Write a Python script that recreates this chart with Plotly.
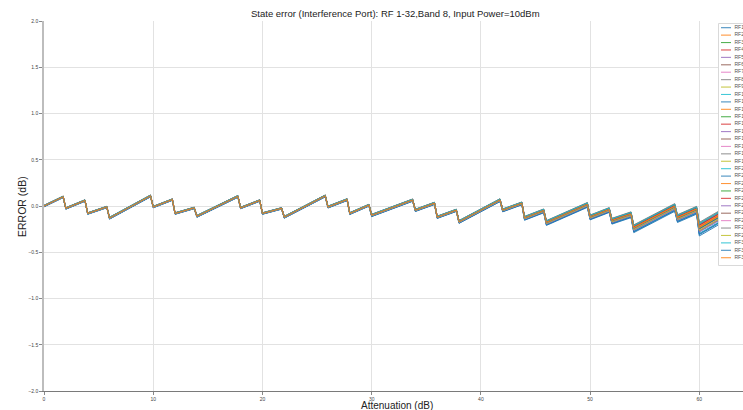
import plotly.graph_objects as go

# ---------------- data ----------------
title_text = "State error (Interference Port): RF 1-32,Band 8, Input Power=10dBm"
rf_names = [f"RF{i}" for i in range(1, 33)]

att_step = 0.25
# attenuation where each sawtooth segment starts (drop positions)
seg_start = [0, 2, 4, 6, 10, 12, 14, 18, 20, 22, 26, 28, 30, 34, 36, 38,
             42, 44, 46, 50, 52, 54, 58, 60, 62]
seg_stop = seg_start[1:] + [64]
# mean error at start / end of each segment (dB)
err_start = [0.0, -0.025, -0.08, -0.13, -0.01, -0.08, -0.11, -0.02, -0.08, -0.12,
             -0.01, -0.08, -0.10, -0.045, -0.12, -0.17, -0.045, -0.13, -0.18, -0.12,
             -0.16, -0.24, -0.13, -0.24, -0.32]
err_end = [0.10, 0.06, -0.01, 0.11, 0.07, -0.02, 0.105, 0.06, -0.025, 0.11,
           0.07, 0.01, 0.065, 0.03, -0.045, 0.065, 0.03, -0.05, 0.015, -0.04,
           -0.09, -0.01, -0.04, -0.12, -0.24]
# channel-to-channel spread in each segment (dB)
seg_spread = [0.008, 0.008, 0.008, 0.01, 0.008, 0.008, 0.01, 0.008, 0.008, 0.01,
              0.01, 0.01, 0.012, 0.012, 0.012, 0.015, 0.015, 0.02, 0.025, 0.025,
              0.03, 0.04, 0.04, 0.07, 0.08]
# relative position of each RF channel inside the spread
rf_offset = [-1.0, 0.3, 0.1, 0.5, -0.2, 0.2, 0.6, 0.0, -0.3, -0.8,
             -1.2, 0.4, -0.1, 0.7, -0.4, 0.15, 0.35, -0.5, 0.05, 0.8,
             -0.9, 0.25, -0.15, 0.45, -0.6, 0.55, -0.25, 0.9, -0.35, 0.65,
             -0.05, 0.1]

x_ticks = [0, 10, 20, 30, 40, 50, 60]
y_ticks = [-2.0, -1.5, -1.0, -0.5, 0.0, 0.5, 1.0, 1.5, 2.0]

# ---------------- build series ----------------
att = []
base = []
seg_of = []
for k, s in enumerate(seg_start):
    n = int(round((seg_stop[k] - s) / att_step))
    for j in range(n):
        att.append(s + j * att_step)
        base.append(err_start[k] + (err_end[k] - err_start[k]) * j / (n - 1))
        seg_of.append(k)

tab10 = ["#1f77b4", "#ff7f0e", "#2ca02c", "#d62728", "#9467bd",
         "#8c564b", "#e377c2", "#7f7f7f", "#bcbd22", "#17becf"]

fig = go.Figure()
for i, name in enumerate(rf_names):
    y = [b + rf_offset[i] * seg_spread[seg_of[p]] for p, b in enumerate(base)]
    fig.add_trace(go.Scatter(x=att, y=y, mode="lines", name=name,
                             line=dict(color=tab10[i % 10], width=0.9),
                             xaxis="x", yaxis="y",
                             showlegend=False, hoverinfo="skip"))

# ---------------- layout ----------------
W, H = 743, 410
L, R, T, B = 44, 0, 21, 19
pw, ph = W - L - R, H - T - B


def pxx(xp):
    return (xp - L) / pw


def pxy(yp):
    return (H - B - yp) / ph


# legend box (pixel frame of the hand-made legend)
leg_left, leg_top, leg_bottom = 718, 23, 266
leg_row0, leg_row_gap = 27.7, 7.42

font_fam = "Liberation Sans, Arial, sans-serif"

# legend drawn in an overlay sub-plot whose axis units are pixels
fig.add_trace(go.Scatter(x=[leg_left + 0.5, W + 20, W + 20, leg_left + 0.5, leg_left + 0.5],
                         y=[leg_top + 0.5, leg_top + 0.5, leg_bottom - 0.5, leg_bottom - 0.5,
                            leg_top + 0.5],
                         mode="lines", fill="toself", fillcolor="rgba(255,255,255,0.82)",
                         line=dict(color="#d9d9d9", width=1),
                         xaxis="x2", yaxis="y2", showlegend=False, hoverinfo="skip"))
for i, name in enumerate(rf_names):
    yy = leg_row0 + i * leg_row_gap
    fig.add_trace(go.Scatter(x=[leg_left + 3, leg_left + 13], y=[yy, yy], mode="lines",
                             line=dict(color=tab10[i % 10], width=1.1), opacity=0.8,
                             xaxis="x2", yaxis="y2", showlegend=False, hoverinfo="skip"))
fig.add_trace(go.Scatter(x=[leg_left + 16.5] * len(rf_names),
                         y=[leg_row0 + i * leg_row_gap for i in range(len(rf_names))],
                         text=rf_names, mode="text", textposition="middle right",
                         textfont=dict(size=5, color="#555", family=font_fam),
                         cliponaxis=False, xaxis="x2", yaxis="y2",
                         showlegend=False, hoverinfo="skip"))

fig.update_layout(
    width=W, height=H,
    margin=dict(l=L, r=R, t=T, b=B, pad=0),
    paper_bgcolor="white", plot_bgcolor="white",
    font=dict(family=font_fam, color="#333"),
    showlegend=False,
    xaxis=dict(range=[0, 64], autorange=False, tickvals=x_ticks,
               ticktext=[str(v) for v in x_ticks],
               ticks="outside", ticklen=2.5, tickcolor="#888",
               tickfont=dict(size=5, color="#444"),
               showgrid=True, gridcolor="#e2e2e2", gridwidth=1,
               showline=True, linecolor="#7a7a7a", linewidth=1, zeroline=False,
               anchor="y"),
    yaxis=dict(range=[-2, 2], autorange=False, tickvals=y_ticks,
               ticktext=[f"{v:.1f}".replace("-", "\u2212") for v in y_ticks],
               ticks="outside", ticklen=3, tickcolor="#888",
               tickfont=dict(size=5, color="#444"),
               showgrid=True, gridcolor="#e2e2e2", gridwidth=1,
               showline=True, linecolor="#bdbdbd", linewidth=1.5, zeroline=False,
               anchor="x"),
    xaxis2=dict(domain=[pxx(leg_left), 1], range=[leg_left, W], autorange=False,
                visible=False, anchor="y2", fixedrange=True),
    yaxis2=dict(domain=[pxy(leg_bottom), pxy(leg_top)], range=[leg_bottom, leg_top],
                autorange=False, visible=False, anchor="x2", fixedrange=True),
)

annotations = [
    dict(text=title_text, x=pxx(395.5), y=pxy(13), xref="paper", yref="paper",
         xanchor="center", yanchor="middle", showarrow=False,
         font=dict(size=9.5, color="#222")),
    dict(text="Attenuation (dB)", x=pxx(397), y=pxy(405.5), xref="paper", yref="paper",
         xanchor="center", yanchor="middle", showarrow=False,
         font=dict(size=10, color="#222")),
    dict(text="ERROR (dB)", x=pxx(22), y=pxy(207), xref="paper", yref="paper",
         xanchor="center", yanchor="middle", showarrow=False, textangle=-90,
         font=dict(size=10.5, color="#222")),
]

fig.update_layout(annotations=annotations)

fig.write_html("out.html", config={"displayModeBar": False})
